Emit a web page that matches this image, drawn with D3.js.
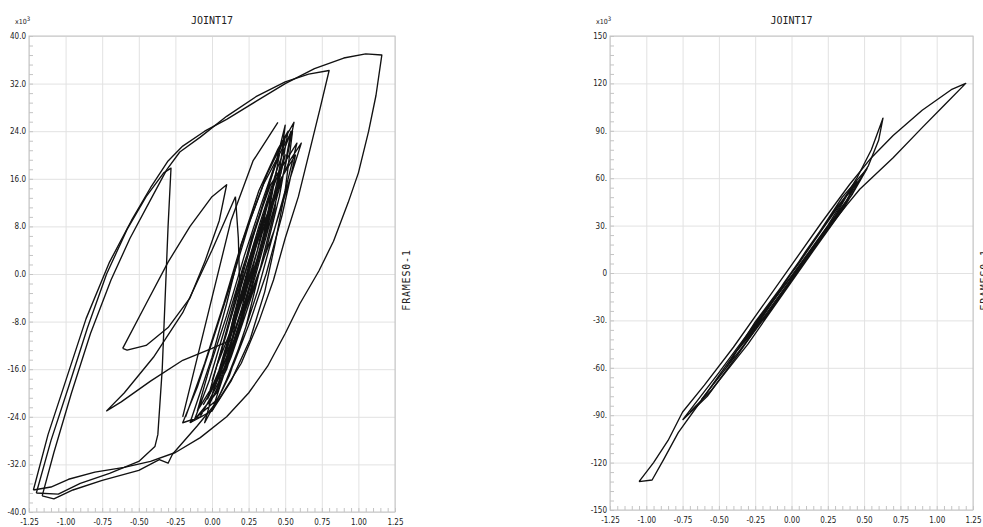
<!DOCTYPE html>
<html>
<head>
<meta charset="utf-8">
<script src="https://cdn.jsdelivr.net/npm/d3@7"></script>
<style>
  body { margin: 0; background: #fff; }
  .tick-label { font-family: "Liberation Sans Narrow", "DejaVu Sans Condensed", sans-serif; font-size: 8px; fill: #222; }
  .title { font-family: "DejaVu Sans Mono", monospace; font-size: 10px; fill: #222; }
  .grid line { stroke: #e2e2e2; }
  .grid path { display: none; }
  .frame { fill: none; stroke: #c4c4c4; }
  .minor line { stroke: #c4c4c4; }
  .minor path { display: none; }
  .loop { fill: none; stroke: #111; stroke-width: 1.35; stroke-linejoin: round; }
</style>
</head>
<body>
<svg id="chart" width="983" height="527"></svg>
<script>
// ---- data (x = displacement, y = force x10^3) ----
const xTicks = [-1.25, -1.0, -0.75, -0.5, -0.25, 0, 0.25, 0.5, 0.75, 1.0, 1.25];
const xTickLabels = ['-1.25', '-1.00', '-0.75', '-0.50', '-0.25', '0.00', '0.25', '0.50', '0.75', '1.00', '1.25'];

const leftYTicks = [40, 32, 24, 16, 8, 0, -8, -16, -24, -32, -40];
const leftYTickLabels = ['40.0', '32.0', '24.0', '16.0', '8.0', '0.0', '-8.0', '-16.0', '-24.0', '-32.0', '-40.0'];

const rightYTicks = [150, 120, 90, 60, 30, 0, -30, -60, -90, -120, -150];
const rightYTickLabels = ['150', '120', '90.', '60.', '30.', '0', '-30.', '-60.', '-90.', '-120', '-150'];

// left chart loops
const leftOuter = [
  [-1.22, -36.3], [-1.12, -27], [-1.0, -18], [-0.86, -7.5], [-0.7, 2], [-0.55, 9], [-0.42, 14.5],
  [-0.3, 19], [-0.2, 21.5], [-0.05, 24], [0.1, 26], [0.3, 29], [0.5, 32], [0.7, 34.5], [0.9, 36.3],
  [1.05, 37], [1.16, 36.8], [1.12, 30], [1.07, 24], [1.0, 17], [0.93, 12], [0.83, 5.5], [0.73, 0.5],
  [0.6, -5], [0.5, -10], [0.38, -15.5], [0.25, -20], [0.1, -24], [-0.08, -27.5], [-0.25, -30],
  [-0.42, -31.5], [-0.6, -32.5], [-0.8, -33.3], [-0.98, -34.5], [-1.1, -35.8], [-1.22, -36.3]
];
const leftLoopB = [
  [-1.16, -37.3], [-1.08, -30], [-0.96, -20], [-0.83, -10], [-0.69, -1], [-0.56, 6], [-0.43, 12],
  [-0.31, 17.5], [-0.22, 20.5], [-0.08, 23], [0.1, 26.5], [0.3, 29.8], [0.5, 32.3], [0.66, 33.6],
  [0.8, 34.2], [0.74, 28], [0.67, 21], [0.59, 13], [0.5, 6], [0.42, -1], [0.32, -8], [0.2, -15],
  [0.05, -21], [-0.1, -25.5], [-0.27, -30.3], [-0.3, -31.8], [-0.36, -31.2], [-0.5, -33],
  [-0.75, -34.7], [-0.95, -36.3], [-1.08, -37.8], [-1.16, -37.3]
];
const leftLoopC = [
  [-1.2, -36.8], [-1.1, -28], [-0.98, -19], [-0.85, -9], [-0.72, 0], [-0.58, 7.5], [-0.45, 13],
  [-0.33, 17], [-0.28, 17.8], [-0.3, 8], [-0.32, -4], [-0.34, -16], [-0.37, -27], [-0.39, -29],
  [-0.5, -31.5], [-0.7, -33.5], [-0.9, -35.2], [-1.05, -37], [-1.2, -36.8]
];
const leftTri = [
  [0.16, 13], [0.0, 4], [-0.2, -6.5], [-0.4, -14], [-0.6, -20], [-0.72, -23], [-0.62, -21.5],
  [-0.42, -18], [-0.2, -14.5], [0.0, -12.5], [0.14, -11], [0.19, -3], [0.18, 6], [0.16, 13]
];
const leftInner = [
  [-0.61, -12.5], [-0.45, -5], [-0.3, 2], [-0.15, 8], [0.0, 13], [0.1, 15], [0.05, 9], [-0.05, 2],
  [-0.15, -4], [-0.3, -9], [-0.45, -12], [-0.58, -12.8], [-0.61, -12.5]
];
const leftCore = [
  [-0.18, -24], [-0.05, -15], [0.08, -5], [0.2, 5], [0.32, 14], [0.45, 21], [0.52, 24],
  [0.47, 17], [0.38, 8], [0.26, -2], [0.12, -12], [0.0, -19], [-0.1, -23],
  [-0.02, -16], [0.1, -7], [0.22, 3], [0.34, 12], [0.48, 22], [0.56, 25.5],
  [0.5, 18], [0.4, 9], [0.3, 0], [0.18, -10], [0.05, -18], [-0.08, -24], [-0.2, -25],
  [-0.1, -19], [0.02, -10], [0.15, 0], [0.26, 9], [0.38, 17], [0.5, 23],
  [0.44, 15], [0.34, 5], [0.22, -5], [0.1, -14], [-0.03, -21],
  [0.06, -13], [0.16, -4], [0.27, 6], [0.4, 15], [0.58, 22],
  [0.5, 14], [0.41, 6], [0.31, -3], [0.19, -12], [0.08, -19], [-0.05, -25],
  [0.05, -16], [0.17, -6], [0.29, 4], [0.42, 13], [0.53, 19], [0.61, 22],
  [0.52, 15], [0.42, 7], [0.3, -1], [0.2, -8], [0.1, -16], [-0.02, -22],
  [0.1, -12], [0.2, -2], [0.32, 8], [0.45, 18], [0.54, 24],
  [0.46, 13], [0.36, 3], [0.24, -6], [0.13, -14], [0.03, -20], [-0.12, -24.5],
  [-0.02, -18], [0.09, -9], [0.21, 1], [0.33, 10], [0.44, 19], [0.5, 25],
  [0.43, 11], [0.33, 1], [0.23, -9], [0.12, -17], [0.0, -23],
  [0.12, -14], [0.24, -4], [0.36, 7], [0.47, 16], [0.57, 20],
  [0.48, 10], [0.37, 0], [0.26, -8], [0.15, -15], [0.04, -21], [-0.15, -25]
];
const leftCoreMid = [
  [0.0, -18], [0.1, -10], [0.2, -1], [0.3, 8], [0.4, 16], [0.46, 20], [0.4, 12], [0.3, 3],
  [0.2, -6], [0.1, -14], [0.02, -19], [0.12, -11], [0.23, -1], [0.33, 8], [0.42, 15], [0.36, 6],
  [0.26, -3], [0.15, -11], [0.05, -17], [0.16, -8], [0.27, 2], [0.37, 11], [0.44, 17], [0.35, 9],
  [0.25, 0], [0.14, -9], [0.07, -15], [0.18, -5], [0.29, 5], [0.39, 13], [0.31, 4], [0.21, -4],
  [0.11, -12], [0.22, -2], [0.32, 7], [0.41, 14], [0.34, 5], [0.24, -5], [0.13, -13], [0.03, -20],
  [0.15, -7], [0.28, 3], [0.38, 12], [0.5, 20], [0.43, 13], [0.33, 4], [0.23, -3], [0.12, -10],
  [0.04, -15], [0.17, -4], [0.3, 6], [0.4, 11], [0.28, 0], [0.18, -9], [0.08, -16], [-0.06, -22]
];
const leftCoreWide = [
  [-0.15, -25], [0.0, -14], [0.1, -5], [0.2, 5], [0.35, 15], [0.5, 22], [0.55, 24], [0.5, 14],
  [0.43, 5], [0.36, -3], [0.26, -11], [0.13, -18], [0.0, -23], [-0.15, -25]
];
const leftCoreEdge = [
  [-0.2, -24], [-0.08, -12], [0.03, -1], [0.13, 9], [0.28, 19], [0.45, 25.5]
];

// right chart loops
const rightOuter = [
  [-1.05, -132], [-0.96, -131], [-0.88, -118], [-0.78, -101], [-0.6, -78], [-0.4, -52], [-0.2, -27],
  [0.0, -2], [0.2, 22], [0.38, 43], [0.47, 53], [0.7, 73], [0.9, 92], [1.05, 106], [1.2, 120],
  [1.1, 116], [0.9, 103], [0.7, 87], [0.55, 73], [0.4, 56], [0.2, 31], [0.0, 5], [-0.2, -21],
  [-0.4, -47], [-0.6, -71], [-0.75, -88], [-0.85, -106], [-0.95, -120], [-1.05, -132]
];
const rightLoopB = [
  [-0.75, -93], [-0.5, -63], [-0.25, -32], [0.0, -2], [0.25, 30], [0.45, 60], [0.55, 78],
  [0.63, 98], [0.6, 84], [0.53, 68], [0.38, 46], [0.12, 12], [-0.13, -20], [-0.38, -53],
  [-0.58, -78], [-0.75, -93]
];
const rightCore = [
  [-0.3, -42], [-0.1, -14], [0.1, 14], [0.3, 40], [0.45, 58], [0.38, 46], [0.2, 22], [0.0, -4],
  [-0.2, -30], [-0.4, -52], [-0.25, -34], [-0.05, -6], [0.15, 20], [0.35, 48], [0.52, 66],
  [0.42, 50], [0.25, 28], [0.05, 2], [-0.15, -24], [-0.35, -46], [-0.2, -26], [0.0, 0],
  [0.2, 26], [0.4, 52], [0.3, 36], [0.1, 10], [-0.1, -18], [-0.28, -40], [-0.5, -66],
  [-0.62, -80], [-0.45, -60], [-0.25, -31], [0.05, 6], [0.32, 42], [0.48, 60],
  [0.36, 41], [0.15, 14], [-0.08, -16], [-0.3, -45], [-0.55, -74], [-0.7, -88]
];

class LoopChart {

  /**
   * @param {Object} chart configuration
   * @param {Array} list of loops ([x, y] pairs)
   */
  constructor(_config, _data) {
    this.config = {
      parentElement: _config.parentElement,
      left: _config.left,
      top: _config.top,
      width: _config.width,
      height: _config.height,
      yDomain: _config.yDomain,
      yTicks: _config.yTicks,
      yTickLabels: _config.yTickLabels,
      yMinorStep: _config.yMinorStep,
      title: _config.title || 'JOINT17',
      sideLabel: _config.sideLabel || 'FRAMES0-1'
    }
    this.data = _data;
    this.initVis();
  }

  initVis() {
    let vis = this;
    const cfg = vis.config;

    vis.chart = d3.select(cfg.parentElement).append('g')
      .attr('transform', `translate(${cfg.left},${cfg.top})`);

    vis.xScale = d3.scaleLinear().domain([-1.25, 1.25]).range([0, cfg.width]);
    vis.yScale = d3.scaleLinear().domain(cfg.yDomain).range([cfg.height, 0]);

    // grid lines
    vis.chart.append('g')
      .attr('class', 'grid')
      .attr('transform', `translate(0,${cfg.height})`)
      .call(d3.axisBottom(vis.xScale).tickValues(xTicks).tickSize(-cfg.height).tickFormat(''));

    vis.chart.append('g')
      .attr('class', 'grid')
      .call(d3.axisLeft(vis.yScale).tickValues(cfg.yTicks).tickSize(-cfg.width).tickFormat(''));

    // minor ticks inside the frame
    const xMinor = d3.range(-1.25, 1.2501, 0.05);
    const yMinor = d3.range(cfg.yDomain[0], cfg.yDomain[1] + 1e-6, cfg.yMinorStep);

    vis.chart.append('g')
      .attr('class', 'minor')
      .attr('transform', `translate(0,${cfg.height})`)
      .call(d3.axisBottom(vis.xScale).tickValues(xMinor).tickSize(-4).tickFormat(''));

    vis.chart.append('g')
      .attr('class', 'minor')
      .call(d3.axisLeft(vis.yScale).tickValues(yMinor).tickSize(-4).tickFormat(''));

    vis.chart.append('rect')
      .attr('class', 'frame')
      .attr('width', cfg.width)
      .attr('height', cfg.height);

    // tick labels
    const xAxis = d3.axisBottom(vis.xScale)
      .tickValues(xTicks)
      .tickSize(0)
      .tickPadding(7)
      .tickFormat((d, i) => xTickLabels[i]);

    const yAxis = d3.axisLeft(vis.yScale)
      .tickValues(cfg.yTicks)
      .tickSize(0)
      .tickPadding(3)
      .tickFormat((d, i) => cfg.yTickLabels[i]);

    vis.xAxisG = vis.chart.append('g')
      .attr('transform', `translate(0,${cfg.height})`)
      .call(xAxis);
    vis.yAxisG = vis.chart.append('g').call(yAxis);

    [vis.xAxisG, vis.yAxisG].forEach(g => {
      g.select('.domain').remove();
      g.selectAll('text').attr('class', 'tick-label').attr('font-size', null).attr('font-family', null);
    });

    // x10^3 multiplier
    const mult = vis.chart.append('text')
      .attr('class', 'tick-label')
      .attr('x', -14)
      .attr('y', -12)
      .style('font-size', '7px');
    mult.append('tspan').text('x10');
    mult.append('tspan').attr('dy', -3).style('font-size', '6px').text('3');

    // title and side label
    vis.chart.append('text')
      .attr('class', 'title')
      .attr('x', cfg.width / 2)
      .attr('y', -12)
      .attr('text-anchor', 'middle')
      .text(cfg.title);

    vis.chart.append('text')
      .attr('class', 'title')
      .attr('text-anchor', 'middle')
      .attr('transform', `translate(${cfg.width + 15},${244}) rotate(-90)`)
      .style('letter-spacing', '0.8px')
      .text(cfg.sideLabel);

    vis.renderVis();
  }

  renderVis() {
    let vis = this;

    const line = d3.line()
      .x(d => vis.xScale(d[0]))
      .y(d => vis.yScale(d[1]));

    vis.chart.selectAll('.loop')
      .data(vis.data)
      .join('path')
      .attr('class', 'loop')
      .attr('d', line);
  }
}

new LoopChart({
  parentElement: '#chart',
  left: 29, top: 36, width: 366, height: 476,
  yDomain: [-40, 40],
  yTicks: leftYTicks,
  yTickLabels: leftYTickLabels,
  yMinorStep: 1.6
}, [leftOuter, leftLoopB, leftLoopC, leftTri, leftInner, leftCore, leftCoreMid, leftCoreWide, leftCoreEdge]);

new LoopChart({
  parentElement: '#chart',
  left: 610, top: 36, width: 363, height: 474,
  yDomain: [-150, 150],
  yTicks: rightYTicks,
  yTickLabels: rightYTickLabels,
  yMinorStep: 6
}, [rightOuter, rightLoopB, rightCore]);
</script>
</body>
</html>
